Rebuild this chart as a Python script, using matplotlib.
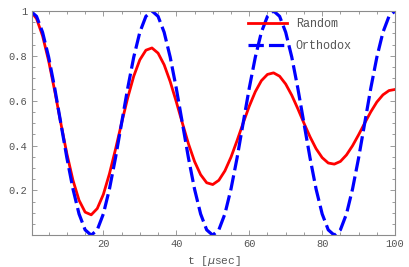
import matplotlib
matplotlib.use("Agg")
import matplotlib.pyplot as plt
from matplotlib.ticker import MultipleLocator

t = [0.00, 1.67, 3.33, 5.00, 6.67, 8.33, 10.00, 11.67, 13.33, 15.00,
     16.67, 18.33, 20.00, 21.67, 23.33, 25.00, 26.67, 28.33, 30.00, 31.67,
     33.33, 35.00, 36.67, 38.33, 40.00, 41.67, 43.33, 45.00, 46.67, 48.33,
     50.00, 51.67, 53.33, 55.00, 56.67, 58.33, 60.00, 61.67, 63.33, 65.00,
     66.67, 68.33, 70.00, 71.67, 73.33, 75.00, 76.67, 78.33, 80.00, 81.67,
     83.33, 85.00, 86.67, 88.33, 90.00, 91.67, 93.33, 95.00, 96.67, 98.33,
     100.00]

random_vals = [1.000, 0.966, 0.889, 0.777, 0.643, 0.500, 0.363, 0.245, 0.156, 0.103,
               0.091, 0.119, 0.182, 0.274, 0.383, 0.500, 0.612, 0.709, 0.782, 0.825,
               0.835, 0.812, 0.760, 0.685, 0.595, 0.500, 0.408, 0.329, 0.270, 0.234,
               0.226, 0.245, 0.287, 0.348, 0.422, 0.500, 0.575, 0.640, 0.689, 0.717,
               0.724, 0.709, 0.674, 0.624, 0.564, 0.500, 0.439, 0.386, 0.346, 0.322,
               0.317, 0.329, 0.358, 0.399, 0.448, 0.500, 0.550, 0.594, 0.626, 0.645,
               0.650]

orthodox_vals = [1.000, 0.976, 0.905, 0.794, 0.655, 0.500, 0.345, 0.206, 0.095, 0.024,
                 0.000, 0.024, 0.095, 0.206, 0.345, 0.500, 0.655, 0.794, 0.905, 0.976,
                 1.000, 0.976, 0.905, 0.794, 0.655, 0.500, 0.345, 0.206, 0.095, 0.024,
                 0.000, 0.024, 0.095, 0.206, 0.345, 0.500, 0.655, 0.794, 0.905, 0.976,
                 1.000, 0.976, 0.905, 0.794, 0.655, 0.500, 0.345, 0.206, 0.095, 0.024,
                 0.000, 0.024, 0.095, 0.206, 0.345, 0.500, 0.655, 0.794, 0.905, 0.976,
                 1.000]

xticks = [20, 40, 60, 80, 100]
yticks = [0.2, 0.4, 0.6, 0.8, 1.0]
ytick_labels = ["0.2", "0.4", "0.6", "0.8", "1"]

mono = "Liberation Mono"
frame_col = "#8c8c8c"
text_col = "#555555"

fig = plt.figure(figsize=(4.09, 2.67), dpi=100)
ax = fig.add_axes([0.0775, 0.119, 0.8885, 0.840])

ax.plot(t, random_vals, color="red", lw=2.0, label="Random")
ax.plot(t, orthodox_vals, color="blue", lw=2.3, dashes=(4.8, 1.6), label="Orthodox")

ax.set_xlim(0.35, 100)
ax.set_ylim(0, 1)
ax.set_xticks(xticks)
ax.set_yticks(yticks)
ax.set_yticklabels(ytick_labels)
ax.xaxis.set_minor_locator(MultipleLocator(5))
ax.yaxis.set_minor_locator(MultipleLocator(0.05))
ax.tick_params(which="both", direction="in", top=True, right=True,
               color=frame_col, width=0.6, labelcolor=text_col,
               labelsize=7.5, pad=3)
ax.tick_params(which="major", length=3.5)
ax.tick_params(which="minor", length=2)
for lab in ax.get_xticklabels() + ax.get_yticklabels():
    lab.set_family(mono)
for sp in ax.spines.values():
    sp.set_color(frame_col)
    sp.set_linewidth(0.8)

ax.set_xlabel(r"t [$\mu$sec]", family=mono, fontsize=8, color=text_col, labelpad=3)

ax.legend(loc="upper left", bbox_to_anchor=(0.595, 0.967), frameon=False,
          prop={"family": mono, "size": 8.5}, handlelength=3.3,
          handletextpad=0.75, borderpad=0, borderaxespad=0, labelspacing=0.8,
          labelcolor=text_col)

fig.savefig("out.png", dpi=100)
